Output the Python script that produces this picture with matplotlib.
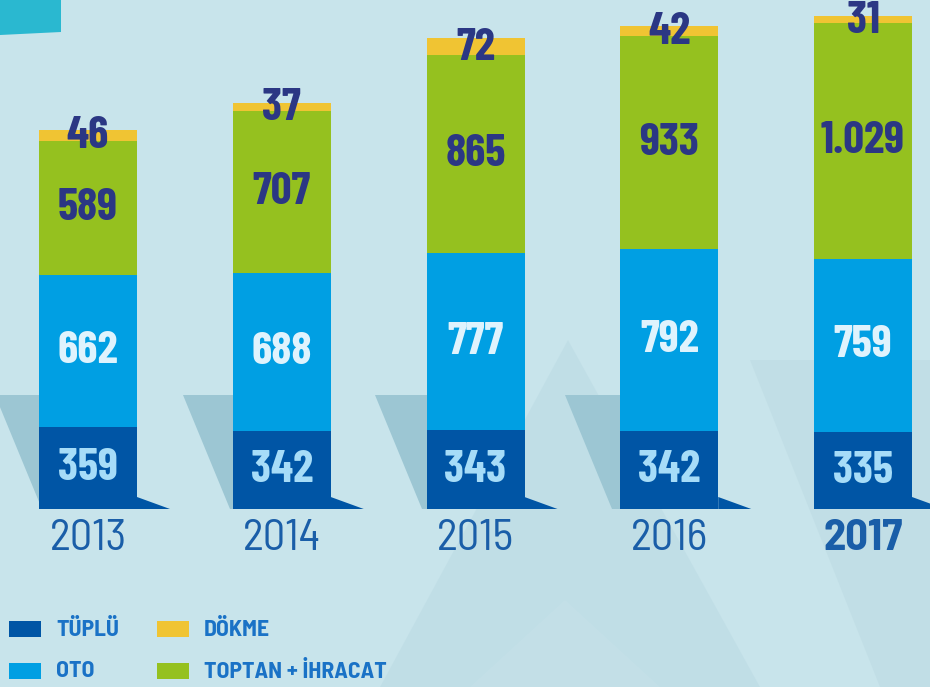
import matplotlib.pyplot as plt
from matplotlib.patches import Polygon, Rectangle

# data
years = ['2013', '2014', '2015', '2016', '2017']
tuplu = [359, 342, 343, 342, 335]
oto = [662, 688, 777, 792, 759]
toptan = [589, 707, 865, 933, 1029]
dokme = [46, 37, 72, 42, 31]
toptan_labels = ['589', '707', '865', '933', '1.029']

c_tuplu = '#0055a5'
c_oto = '#009fe3'
c_toptan = '#95c11f'
c_dokme = '#f0c433'
c_bg = '#c8e4eb'
c_navy = '#2b3784'
COND = ['Barlow Condensed', 'DejaVu Sans']
SEMI = ['Barlow Semi Condensed', 'DejaVu Sans']

W, H = 930, 687
fig = plt.figure(figsize=(9.3, 6.87), dpi=100)

# background layer in pixel coords
bg = fig.add_axes([0, 0, 1, 1], zorder=0)
bg.set_xlim(0, W)
bg.set_ylim(H, 0)
bg.axis('off')
bg.add_patch(Rectangle((0, 0), W, H, color=c_bg))
# faint big triangles
bg.add_patch(Polygon([(380, 687), (568, 340), (760, 687)], color='#bcdbe4', alpha=0.6, lw=0))
bg.add_patch(Polygon([(470, 687), (565, 600), (660, 687)], color='#c4e0e8', alpha=0.8, lw=0))
bg.add_patch(Polygon([(750, 360), (930, 360), (930, 687), (880, 687)], color='#bddbe3', alpha=0.6, lw=0))
# darker slanted shapes behind the bars
for x0 in [0, 188, 380, 570]:
    bg.add_patch(Polygon([(x0 - 5, 395), (x0 + 50, 395), (x0 + 50, 509), (x0 + 42, 509)],
                         color='#9cc6d3', lw=0))
# teal tab top-left
bg.add_patch(Polygon([(0, 0), (61, 0), (61, 32), (0, 35)], color='#2ab8d0', lw=0))

# main axes: baseline at y=509 px, top of tallest bar at y=16 px
x_step = 193.75
x0px = 88
totals = [a + b + c + d for a, b, c, d in zip(tuplu, oto, toptan, dokme)]
ymax = max(totals)
base_px, top_px = 509, 16
ax = fig.add_axes([0, (H - base_px) / H, 1, (base_px - top_px) / H], zorder=1)
ax.set_xlim(-x0px / x_step, (W - x0px) / x_step)
ax.set_ylim(0, ymax)
ax.axis('off')
ax.patch.set_alpha(0)

xs = list(range(len(years)))
bw = 98 / x_step
b1 = tuplu
b2 = [a + b for a, b in zip(tuplu, oto)]
b3 = [a + b for a, b in zip(b2, toptan)]

ax.bar(xs, tuplu, bw, color=c_tuplu, zorder=3)
ax.bar(xs, oto, bw, bottom=b1, color=c_oto, zorder=3)
ax.bar(xs, toptan, bw, bottom=b2, color=c_toptan, zorder=3)
ax.bar(xs, dokme, bw, bottom=b3, color=c_dokme, zorder=3)

# little shadow wedge at the foot of each bar
px_per_unit = (base_px - top_px) / ymax
for x in xs:
    r = x + bw / 2
    ax.add_patch(Polygon([(r, 12 / px_per_unit), (r + 33 / x_step, 0), (r, 0)],
                         color=c_tuplu, lw=0, zorder=3, clip_on=False))

# labels
lab = dict(ha='center', va='center', fontsize=33, fontweight='bold', family=COND, zorder=4)
for i, x in enumerate(xs):
    ax.text(x, tuplu[i] / 2, str(tuplu[i]), color='#a6dcf8', **lab)
    ax.text(x, b1[i] + oto[i] / 2, str(oto[i]), color='#dff3fd', **lab)
    ax.text(x, b2[i] + toptan[i] / 2, toptan_labels[i], color=c_navy, **lab)
    ax.text(x, b3[i] + dokme[i] / 2 - 5, str(dokme[i]), color=c_navy, **lab)
    last = i == len(years) - 1
    ax.text(x, -30 / px_per_unit, years[i], ha='center', va='center', fontsize=32,
            fontweight='bold' if last else 'normal', family=SEMI,
            color='#1a5ea8', zorder=4, clip_on=False)

# legend
legend_items = [('TÜPLÜ', c_tuplu, 9, 629), ('OTO', c_oto, 9, 671),
                ('DÖKME', c_dokme, 157, 629), ('TOPTAN + İHRACAT', c_toptan, 157, 671)]
for name, col, lx, ly in legend_items:
    bg.add_patch(Rectangle((lx, ly - 8), 32, 16, color=col, lw=0))
    bg.text(lx + 47, ly, name, ha='left', va='center', fontsize=17, fontweight='bold',
            family=SEMI, color='#1a72c6')

plt.savefig('out.png', dpi=100)
